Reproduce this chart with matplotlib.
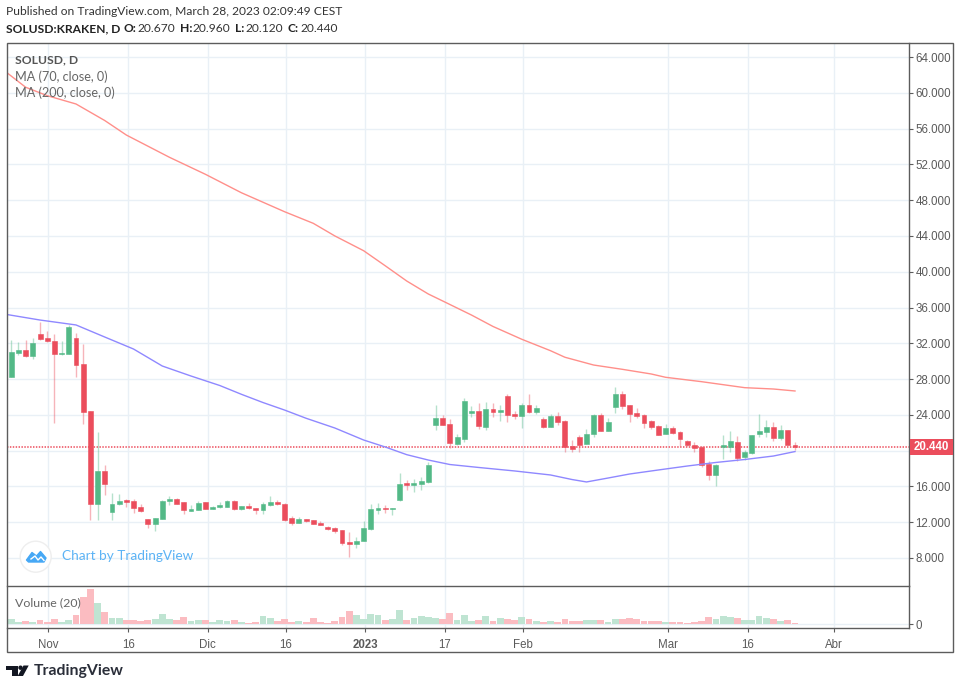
import matplotlib
matplotlib.use("Agg")
import matplotlib.pyplot as plt
from matplotlib.patches import Rectangle, Circle, Polygon

# ---------- data ----------
opens = [28.23,30.88,31.29,30.58,33.08,32.63,32.30,30.77,30.80,32.63,
         29.69,24.40,14.04,17.73,13.14,14.00,14.45,14.34,13.67,12.32,
         11.84,12.36,14.34,14.63,14.22,13.29,13.33,14.22,13.44,13.67,
         13.74,14.41,13.44,13.78,13.56,13.37,13.89,14.23,14.08,12.48,
         11.92,12.33,12.25,11.92,11.47,11.36,11.13,9.83,9.61,9.94,
         11.28,13.33,13.59,13.44,14.49,16.39,16.16,16.28,16.54,22.87,
         23.65,22.98,20.78,21.34,24.21,24.39,22.64,24.61,24.32,26.14,
         24.09,23.87,25.06,24.32,23.50,22.64,23.83,23.31,20.55,21.56,
         20.78,21.86,23.98,22.19,24.84,26.36,25.06,24.17,23.94,23.31,
         22.75,21.86,22.53,22.08,21.04,20.66,20.37,18.54,17.27,20.37,
         20.44,21.00,19.25,19.69,21.86,22.08,22.64,21.41,22.30,20.67]
highs = [32.37,32.18,32.37,32.63,34.42,33.37,33.08,32.30,34.05,33.19,
         31.88,24.43,22.09,18.40,15.30,15.16,14.60,14.56,14.00,12.32,
         12.51,14.49,14.97,14.67,14.26,13.96,14.34,14.26,13.81,14.22,
         14.45,14.45,13.82,14.11,13.63,14.30,14.97,14.49,14.11,12.70,
         12.55,12.36,12.25,12.10,11.54,11.43,11.17,10.91,10.31,12.14,
         14.00,14.19,13.97,13.59,17.47,16.72,16.80,17.02,18.77,25.07,
         23.99,23.54,21.86,25.85,25.00,25.28,25.47,25.28,25.10,26.33,
         24.46,25.28,26.29,25.10,23.72,24.05,24.28,23.42,21.19,21.74,
         22.38,24.05,24.24,23.61,27.15,26.70,25.10,24.76,24.09,23.42,
         22.86,22.97,22.75,22.19,21.19,21.00,20.48,18.84,18.47,21.74,
         22.19,21.67,20.07,21.74,24.09,23.42,23.16,22.86,22.30,20.96]
lows = [28.20,30.70,30.50,30.25,32.37,32.18,23.13,30.70,30.77,28.27,
        23.00,12.25,12.25,15.04,12.25,13.93,13.67,13.07,13.10,11.36,
        11.06,12.36,13.89,14.00,12.96,13.29,13.33,13.44,13.44,13.63,
        13.74,13.37,13.37,13.48,12.92,12.92,13.82,13.93,12.18,11.69,
        11.88,12.07,11.77,11.66,11.17,10.84,9.49,8.08,9.08,9.94,
        11.13,12.92,13.00,12.81,14.41,15.60,15.42,15.64,16.39,22.31,
        22.87,20.26,20.63,21.00,23.80,22.42,22.30,23.79,23.31,23.24,
        23.53,22.56,24.17,24.05,22.56,22.60,22.86,19.81,19.81,19.81,
        20.74,21.56,22.19,22.15,24.24,24.65,23.20,23.68,22.56,22.45,
        21.74,21.82,21.82,20.52,20.52,19.81,18.20,16.71,16.04,19.02,
        19.88,18.88,18.92,19.62,21.56,21.56,21.11,21.19,20.59,20.12]
closes = [31.00,31.29,30.58,32.07,32.48,32.22,30.80,30.88,33.82,29.57,
          24.32,14.04,17.73,16.31,14.08,14.41,14.22,13.55,13.22,11.84,
          12.47,14.41,14.63,14.00,13.37,13.44,14.19,13.44,13.74,13.89,
          14.41,13.48,13.78,13.56,13.37,14.00,14.23,14.00,12.25,11.92,
          12.33,12.10,11.80,11.69,11.25,11.06,9.72,9.61,9.90,11.36,
          13.44,13.56,13.44,13.56,16.28,16.16,16.39,16.61,18.36,23.65,
          22.87,20.82,21.53,25.59,24.44,22.80,24.61,24.32,24.50,24.02,
          23.87,25.06,24.28,24.73,22.64,23.87,23.24,20.37,20.14,20.66,
          21.86,23.98,22.23,23.20,26.29,24.95,24.09,23.87,23.09,22.64,
          21.78,22.53,22.00,21.33,20.59,20.25,18.43,17.27,18.35,20.59,
          21.04,19.21,19.81,21.74,22.19,22.64,21.45,22.30,20.66,20.44]
# volume: no scale on the axis, relative units
volumes = [15,6,9,8,12,6,15,6,12,27,82,105,64,38,20,18,12,12,9,12,
           15,30,15,12,21,9,12,12,6,12,9,12,7,3,6,24,18,9,15,7,
           9,6,18,8,5,11,23,41,29,17,32,27,14,17,44,14,20,26,23,20,
           17,35,14,29,11,14,26,11,20,17,14,23,17,11,8,11,8,17,11,11,
           14,14,14,8,17,17,20,17,11,11,11,8,8,8,5,8,11,23,17,26,
           23,20,14,14,26,20,17,11,14,5]

ma70_idx = [-1,4,9,13,17,21,25,29,32,35,38,41,45,49,52,55,58,61,65,70,75,78,80,83,86,90,94,98,102,106,109]
ma70_val = [35.27,34.60,34.05,32.70,31.36,29.46,28.34,27.28,26.30,25.38,24.54,23.62,22.53,21.19,20.41,
            19.55,18.95,18.45,18.12,17.73,17.28,16.77,16.50,16.94,17.39,17.84,18.28,18.68,19.01,19.40,19.90]
ma200_idx = [-1,2,5,9,13,16,22,27,32,38,42,45,49,52,55,58,60,64,67,71,75,77,81,85,89,91,96,102,106,109]
ma200_val = [62.49,60.62,59.68,58.75,56.90,55.28,52.79,50.89,48.83,46.71,45.41,44.00,42.35,40.67,38.96,
             37.51,36.73,35.16,33.88,32.45,31.17,30.44,29.57,29.09,28.57,28.20,27.71,27.04,26.89,26.67]

price_ticks = [8,12,16,20,24,28,32,36,40,44,48,52,56,60,64]
time_labels = ["Nov","16","Dic","16","2023","17","Feb","Mar","16","Abr"]
time_pos = [5.1,16.25,27.3,38.2,49.2,60.3,71.2,91.3,102.4,114.4]
last_price = 20.44

# ---------- layout helpers ----------
W, H = 960, 689
def rect(x0, y0, x1, y1):
    return [x0/W, 1-y1/H, (x1-x0)/W, (y1-y0)/H]
PX = 7.19
X0 = 11.3
L, R, T, MID, B = 6.5, 909.3, 43, 586, 628.3
xlim = ((L-X0)/PX, (R-X0)/PX)
PY = 8.946
ylim = (8-(MID-558)/PY, 8+(558-T)/PY)

GREEN, RED = "#53b987", "#eb4d5c"
GRID = "#e9f0f6"
FRAME = "#5c5c5c"
TXT = "#5a5a5a"
TICKF = "Liberation Sans"
TS = 8.3

fig = plt.figure(figsize=(W/100, H/100), dpi=100, facecolor="white")
ax = fig.add_axes(rect(L, T, R, MID))
axv = fig.add_axes(rect(L, MID, R, B))
ov = fig.add_axes([0, 0, 1, 1], zorder=10)
ov.set_xlim(0, W); ov.set_ylim(H, 0); ov.axis("off"); ov.patch.set_alpha(0)

# ---------- candles ----------
idx = list(range(len(opens)))
cols = [GREEN if c >= o else RED for o, c in zip(opens, closes)]
ax.vlines(idx, lows, highs, colors=cols, linewidth=1.0, alpha=0.42, zorder=3)
ax.bar(idx, [abs(c-o) for o, c in zip(opens, closes)], bottom=[min(o, c) for o, c in zip(opens, closes)],
       width=0.68, color=cols, edgecolor=cols, linewidth=0.4, zorder=4)
ax.plot(ma70_idx, ma70_val, color="#8f88ff", lw=1.0, zorder=5)
ax.plot(ma200_idx, ma200_val, color="#ff8f8a", lw=1.0, zorder=5)
ax.axhline(last_price, color="#ef6673", lw=1.3, ls=(0, (0.8, 0.8)), zorder=2.5)

ax.set_xlim(*xlim); ax.set_ylim(*ylim)
ax.set_xticks(time_pos); ax.set_xticklabels([])
ax.set_yticks(price_ticks)
ax.set_yticklabels(["" if t == 20 else f"{t:.3f}" for t in price_ticks], family=TICKF, fontsize=TS, color=TXT)
ax.yaxis.tick_right()
ax.tick_params(axis="y", length=3, width=0.8, color=FRAME, pad=1.5)
ax.tick_params(axis="x", length=0)
ax.grid(True, color=GRID, lw=1.0, zorder=0)
ax.set_axisbelow(True)

# ---------- volume ----------
vol_cols = ["#bfe4d2" if c == GREEN else "#fbbcc1" for c in cols]
axv.bar(idx, volumes, width=0.95, color=vol_cols, zorder=3)
axv.set_xlim(*xlim); axv.set_ylim(-12, 115)
axv.axhline(0, color=GRID, lw=1.0, zorder=1)
axv.set_yticks([0]); axv.set_yticklabels(["0"], family=TICKF, fontsize=TS, color=TXT)
axv.yaxis.tick_right()
axv.set_xticks(time_pos)
axv.set_xticklabels(time_labels, family=TICKF, fontsize=TS, color=TXT)
for lab in axv.get_xticklabels():
    if lab.get_text() == "2023":
        lab.set_fontweight("bold")
axv.tick_params(axis="x", length=3, width=0.8, color=FRAME, pad=5)
axv.tick_params(axis="y", length=3, width=0.8, color=FRAME, pad=1.5)
axv.grid(True, axis="x", color=GRID, lw=1.0, zorder=0)
axv.set_axisbelow(True)

for a in (ax, axv):
    for s in a.spines.values():
        s.set_color(FRAME); s.set_linewidth(1.0)
ax.spines["top"].set_visible(False)
ax.spines["left"].set_visible(False)
ax.spines["bottom"].set_visible(False)
axv.spines["left"].set_visible(False)

# ---------- outer frame and last-price label ----------
ov.add_patch(Rectangle((6.5, 43), 946.5, 609.3, fill=False, ec=FRAME, lw=1.0))
ov.add_patch(Rectangle((909.8, 439), 42.7, 16, fc=RED, ec="none"))
ov.text(931, 447.2, f"{last_price:.3f}", ha="center", va="center", color="white",
        family=TICKF, fontsize=TS, fontweight="bold")

# ---------- texts ----------
FS = 8.62
DARK, MIDC = "#222222", "#333333"
ov.text(6.5, 11.5, "Published on TradingView.com, March 28, 2023 02:09:49 CEST", family="Lato",
        fontsize=FS, color=MIDC, va="center")
ov.text(6.5, 29, "SOLUSD:KRAKEN, D", family="Lato", fontsize=FS, fontweight="bold", color=DARK, va="center")
ov.text(124, 29, "O:", family="Lato", fontsize=FS, fontweight="bold", color=DARK, va="center")
ov.text(137, 29, "20.670", family="Lato", fontsize=FS, color=MIDC, va="center")
ov.text(180, 29, "H:", family="Lato", fontsize=FS, fontweight="bold", color=DARK, va="center")
ov.text(192, 29, "20.960", family="Lato", fontsize=FS, color=MIDC, va="center")
ov.text(235, 29, "L:", family="Lato", fontsize=FS, fontweight="bold", color=DARK, va="center")
ov.text(245, 29, "20.120", family="Lato", fontsize=FS, color=MIDC, va="center")
ov.text(288, 29, "C:", family="Lato", fontsize=FS, fontweight="bold", color=DARK, va="center")
ov.text(300, 29, "20.440", family="Lato", fontsize=FS, color=MIDC, va="center")

ov.text(15, 59.5, "SOLUSD, D", family="Lato", fontsize=8.7, fontweight="bold", color="#555555", va="center")
ov.text(15, 76.5, "MA (70, close, 0)", family="Lato", fontsize=9.1, color="#666666", va="center")
ov.text(15, 92.5, "MA (200, close, 0)", family="Lato", fontsize=9.1, color="#666666", va="center")
ov.text(15, 603, "Volume (20)", family="Lato", fontsize=8.9, color="#666666", va="center")

# Chart by TradingView badge
ov.add_patch(Circle((35.7, 556.7), 15.5, fc="white", ec="#eeeeee", lw=1.0))
ov.add_patch(Polygon([(26.5, 560), (32, 552.5), (36.5, 556), (40.5, 551.5), (46, 558),
                      (44, 562), (28.5, 562)], closed=True, fc="#46a8f5", ec="#46a8f5", lw=1.0, joinstyle="round"))
ov.plot([31, 35, 38, 41, 44], [559, 556, 560, 557, 560.5], color="white", lw=1.0)
ov.text(62, 556, "Chart by TradingView", family="Lato", fontsize=9.85, color="#5cb3f5", va="center")

# TradingView logo
ov.add_patch(Polygon([(6, 665.5), (17.5, 665.5), (17.5, 676), (11.5, 676), (11.5, 670), (6, 670)], fc="#131722", ec="none"))
ov.add_patch(Circle((20.5, 667.7), 2.2, fc="#131722", ec="none"))
ov.add_patch(Polygon([(23.5, 665.5), (28.7, 665.5), (23, 676), (17.7, 676)], fc="#131722", ec="none"))
ov.text(34, 671, "TradingView", family="Lato", fontsize=11.3, fontweight="bold", color="#2a2e39", va="center")

fig.savefig("out.png", dpi=100, facecolor="white")
